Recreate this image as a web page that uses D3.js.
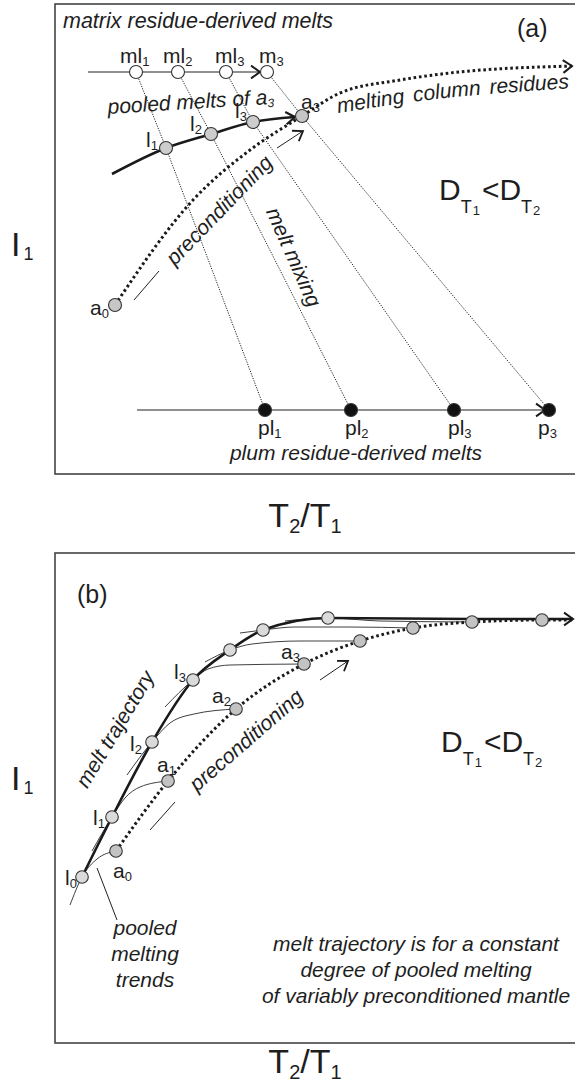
<!DOCTYPE html>
<html>
<head>
<meta charset="utf-8">
<title>Melt mixing and preconditioning</title>
<script src="https://cdn.jsdelivr.net/npm/d3@7/dist/d3.min.js"></script>
<style>
  html, body { margin: 0; padding: 0; background: #fff; }
  svg { display: block; }
  text { font-family: "Liberation Sans", Arial, Helvetica, sans-serif; fill: #1e1e1e; }
</style>
</head>
<body>
<svg id="figure" width="575" height="1086"></svg>
<script>
// ---------- values, in frame units: x from the left edge, y up from the bottom edge ----------

// Panel (a): mixing of matrix and plum residue-derived melts
const matrixMelts = [
  { id: "ml", sub: "1", x: 81,  y: 402 },
  { id: "ml", sub: "2", x: 123, y: 402 },
  { id: "ml", sub: "3", x: 171, y: 402 },
  { id: "m",  sub: "3", x: 212, y: 402 }
];
const pooledMeltsA = [
  { id: "l", sub: "1", x: 111, y: 326 },
  { id: "l", sub: "2", x: 156, y: 340 },
  { id: "l", sub: "3", x: 198, y: 352 }
];
const residuesA = [
  { id: "a", sub: "0", x: 60,  y: 169 },
  { id: "a", sub: "3", x: 247, y: 358 }
];
const plumMelts = [
  { id: "pl", sub: "1", x: 210, y: 64 },
  { id: "pl", sub: "2", x: 296, y: 64 },
  { id: "pl", sub: "3", x: 399, y: 64 },
  { id: "p",  sub: "3", x: 494, y: 64 }
];
const matrixAxisA = [[33, 402], [205, 402]];
const plumAxisA = [[82, 64], [490, 64]];
const pooledCurveA = [[57, 300], [111, 326], [156, 340], [198, 352], [240, 357]];
const residueCurveA = [[60, 169], [138, 274], [195, 324], [247, 358], [285, 381], [345, 394], [395, 401], [517, 408]];
const residueLabelPathA = [[283, 361], [365, 373], [520, 386]];
const preconArrowA = [[222, 326], [248, 343]];
const slashA = [[79, 174], [104, 203]];

// Panel (b): melt trajectory of variably preconditioned mantle
const trajectoryB = [
  { id: "l", sub: "0", x: 27,  y: 166 },
  { id: "l", sub: "1", x: 57,  y: 226 },
  { id: "l", sub: "2", x: 97,  y: 301 },
  { id: "l", sub: "3", x: 138, y: 363 },
  { id: "",  sub: "",  x: 175, y: 393 },
  { id: "",  sub: "",  x: 208, y: 413 },
  { id: "",  sub: "",  x: 273, y: 425 }
];
const residuesB = [
  { id: "a", sub: "0", x: 61,  y: 192 },
  { id: "a", sub: "1", x: 113, y: 262 },
  { id: "a", sub: "2", x: 181, y: 334 },
  { id: "a", sub: "3", x: 249, y: 379 },
  { id: "",  sub: "",  x: 305, y: 402 },
  { id: "",  sub: "",  x: 358, y: 415 },
  { id: "",  sub: "",  x: 417, y: 421 },
  { id: "",  sub: "",  x: 487, y: 423 }
];
const trajectoryEndB = [[417, 424], [487, 424], [518, 424]];
const residueEndB = [[518, 423]];
const pooledTrendsB = [
  [[15, 138], [27, 166], [42, 184], [61, 192]],
  [[37, 192], [57, 226], [70, 245], [85, 256], [113, 262]],
  [[72, 268], [97, 301], [115, 320], [139, 329], [181, 334]],
  [[110, 336], [138, 363], [153, 374], [175, 378], [249, 379]],
  [[150, 381], [175, 393], [197, 399], [245, 402], [305, 402]],
  [[185, 410], [208, 413], [240, 416], [295, 416], [358, 415]],
  [[230, 422], [273, 425], [325, 422], [417, 421]]
];
const preconArrowB = [[265, 363], [293, 382]];
const slashB = [[95, 213], [120, 241]];
const pointerB = [[42, 175], [62, 123]];

// ---------- scales ----------
const xA = d3.scaleLinear().domain([0, 525]).range([55, 580]);
const yA = d3.scaleLinear().domain([0, 470]).range([474, 4]);
const xB = d3.scaleLinear().domain([0, 525]).range([55, 580]);
const yB = d3.scaleLinear().domain([0, 490]).range([1043, 553]);

const svg = d3.select("#figure");
const defs = svg.append("defs");

const pathOf = (xs, ys, curve) =>
  d3.line().x(d => xs(d[0])).y(d => ys(d[1])).curve(curve || d3.curveLinear);

// open chevron arrow head at `tip`, pointing away from `from` (pixel space)
function chevron(g, tip, from, len, half, width) {
  const ang = Math.atan2(tip[1] - from[1], tip[0] - from[0]);
  const p1 = [tip[0] - len * Math.cos(ang - half), tip[1] - len * Math.sin(ang - half)];
  const p2 = [tip[0] - len * Math.cos(ang + half), tip[1] - len * Math.sin(ang + half)];
  g.append("path")
    .attr("d", `M${p1[0]},${p1[1]}L${tip[0]},${tip[1]}L${p2[0]},${p2[1]}`)
    .attr("fill", "none").attr("stroke", "#1a1a1a")
    .attr("stroke-width", width).attr("stroke-linejoin", "miter").attr("stroke-linecap", "butt");
}

// text made of runs; each run may be shifted down (subscripts)
function rich(g, x, y, runs, attrs) {
  const t = g.append("text").attr("x", x).attr("y", y);
  Object.entries(attrs || {}).forEach(([k, v]) => t.attr(k, v));
  let shift = 0;
  runs.forEach(r => {
    const s = t.append("tspan").text(r.t).attr("font-size", r.size);
    const target = r.dy || 0;
    if (target - shift !== 0) s.attr("dy", target - shift);
    if (r.dx) s.attr("dx", r.dx);
    shift = target;
  });
  return t;
}

function pointLabel(g, xs, ys, p, off) {
  if (!p.id) return;
  rich(g, xs(p.x) + off[0], ys(p.y) + off[1], [
    { t: p.id, size: 21 },
    { t: p.sub, size: 13, dy: 3 }
  ]);
}

function rotatedItalic(g, cx, cy, angle, str, size) {
  g.append("text")
    .attr("transform", `translate(${cx},${cy}) rotate(${angle})`)
    .attr("text-anchor", "middle").attr("dy", "0.35em")
    .attr("font-style", "italic").attr("font-size", size)
    .text(str);
}

function ratioLabel(g, x, y) {
  rich(g, x, y, [
    { t: "D", size: 30 },
    { t: "T", size: 18, dy: 13 },
    { t: "1", size: 13, dy: 15, dx: 1 },
    { t: "<", size: 30, dy: 0, dx: 2 },
    { t: "D", size: 30, dy: 0 },
    { t: "T", size: 18, dy: 13 },
    { t: "2", size: 13, dy: 15, dx: 1 }
  ]);
}

function circles(g, xs, ys, pts, fill, r) {
  g.selectAll(null).data(pts).enter().append("circle")
    .attr("cx", d => xs(d.x)).attr("cy", d => ys(d.y)).attr("r", r)
    .attr("fill", fill).attr("stroke", "#333").attr("stroke-width", 1.1);
}

const px = (xs, ys, p) => [xs(p[0]), ys(p[1])];

// ============================ panel (a) ============================
const gA = svg.append("g");
gA.append("rect")
  .attr("x", xA(0)).attr("y", yA(470))
  .attr("width", xA(525) - xA(0)).attr("height", yA(0) - yA(470))
  .attr("fill", "none").attr("stroke", "#444").attr("stroke-width", 1.6);

// melt mixing tie lines: matrix melt -> pooled melt -> plum melt
const mixingLines = matrixMelts.map((m, i) => [m, i < 3 ? pooledMeltsA[i] : residuesA[1], plumMelts[i]]);
mixingLines.forEach(pts => {
  gA.append("path").attr("d", pathOf(xA, yA)(pts.map(p => [p.x, p.y])))
    .attr("fill", "none").attr("stroke", "#222").attr("stroke-width", 1)
    .attr("stroke-dasharray", "1.2,1.3");
});

// matrix and plum melt axes
[matrixAxisA, plumAxisA].forEach(ax => {
  gA.append("path").attr("d", pathOf(xA, yA)(ax))
    .attr("fill", "none").attr("stroke", "#222").attr("stroke-width", 1.1);
  chevron(gA, px(xA, yA, ax[1]), px(xA, yA, ax[0]), 11, 0.62, 2);
});

// pooled melts of a3
gA.append("path").attr("d", pathOf(xA, yA, d3.curveMonotoneX)(pooledCurveA))
  .attr("fill", "none").attr("stroke", "#1a1a1a").attr("stroke-width", 2.6);
chevron(gA, px(xA, yA, pooledCurveA[pooledCurveA.length - 1]), px(xA, yA, pooledCurveA[pooledCurveA.length - 2]), 11, 0.6, 2.2);

// preconditioning / melting column residues
gA.append("path").attr("d", pathOf(xA, yA, d3.curveMonotoneX)(residueCurveA))
  .attr("fill", "none").attr("stroke", "#1a1a1a").attr("stroke-width", 3)
  .attr("stroke-dasharray", "2.6,2.8");
chevron(gA, px(xA, yA, residueCurveA[residueCurveA.length - 1]), px(xA, yA, residueCurveA[residueCurveA.length - 2]), 11, 0.62, 2);

// small direction arrow and tick
gA.append("path").attr("d", pathOf(xA, yA)(preconArrowA))
  .attr("stroke", "#222").attr("stroke-width", 1).attr("fill", "none");
chevron(gA, px(xA, yA, preconArrowA[1]), px(xA, yA, preconArrowA[0]), 11, 0.6, 1.8);
gA.append("path").attr("d", pathOf(xA, yA)(slashA))
  .attr("stroke", "#222").attr("stroke-width", 1).attr("fill", "none");

circles(gA, xA, yA, matrixMelts, "#ffffff", 6.5);
circles(gA, xA, yA, pooledMeltsA, "#cdcdcd", 6.5);
circles(gA, xA, yA, residuesA, "#c6c6c6", 6.5);
circles(gA, xA, yA, plumMelts, "#111111", 6.5);

const offsetsA = {
  ml1: [-16, -9], ml2: [-15, -9], ml3: [-11, -9], m3: [-8, -9],
  l1: [-20, -1], l2: [-21, -3], l3: [-18, -4],
  a0: [-25, 10], a3: [-1, -7],
  pl1: [-7, 25], pl2: [-6, 25], pl3: [-6, 25], p3: [-11, 25]
};
[...matrixMelts, ...pooledMeltsA, ...residuesA, ...plumMelts].forEach(p =>
  pointLabel(gA, xA, yA, p, offsetsA[p.id + p.sub]));

gA.append("text").attr("x", xA(8)).attr("y", yA(446))
  .attr("font-style", "italic").attr("font-size", 21.5).text("matrix residue-derived melts");
gA.append("text").attr("x", xA(462)).attr("y", yA(437))
  .attr("font-size", 25).text("(a)");
rich(gA, xA(53), yA(360), [
  { t: "pooled melts of a", size: 21 },
  { t: "3", size: 12, dy: 3 }
], { "font-style": "italic", transform: `rotate(-3.5 ${xA(53)} ${yA(360)})` });

// label riding just under the residue path
defs.append("path").attr("id", "residueLabelPath")
  .attr("d", pathOf(xA, yA, d3.curveMonotoneX)(residueLabelPathA));
gA.append("text")
  .attr("font-style", "italic").attr("font-size", 21).attr("word-spacing", 3)
  .append("textPath").attr("href", "#residueLabelPath")
  .text("melting column residues");

rotatedItalic(gA, xA(164), yA(264), -46, "preconditioning", 21);
rotatedItalic(gA, xA(239), yA(217), 66, "melt mixing", 21);
ratioLabel(gA, xA(384), yA(274));
gA.append("text").attr("x", xA(301)).attr("y", yA(14))
  .attr("text-anchor", "middle").attr("font-style", "italic").attr("font-size", 21)
  .text("plum residue-derived melts");

// ============================ panel (b) ============================
const gB = svg.append("g");
gB.append("rect")
  .attr("x", xB(0)).attr("y", yB(490))
  .attr("width", xB(525) - xB(0)).attr("height", yB(0) - yB(490))
  .attr("fill", "none").attr("stroke", "#444").attr("stroke-width", 1.6);

// pooled melting trends of each preconditioned source
pooledTrendsB.forEach(tr => {
  gB.append("path").attr("d", pathOf(xB, yB, d3.curveMonotoneX)(tr))
    .attr("fill", "none").attr("stroke", "#2a2a2a").attr("stroke-width", 0.9);
});

// melt trajectory
const trajPts = [...trajectoryB.map(p => [p.x, p.y]), ...trajectoryEndB];
gB.append("path").attr("d", pathOf(xB, yB, d3.curveMonotoneX)(trajPts))
  .attr("fill", "none").attr("stroke", "#1a1a1a").attr("stroke-width", 2.6);

// preconditioning path
const resPts = [...residuesB.map(p => [p.x, p.y]), ...residueEndB];
gB.append("path").attr("d", pathOf(xB, yB, d3.curveMonotoneX)(resPts))
  .attr("fill", "none").attr("stroke", "#1a1a1a").attr("stroke-width", 3)
  .attr("stroke-dasharray", "2.6,2.8");
chevron(gB, px(xB, yB, trajPts[trajPts.length - 1]), px(xB, yB, trajPts[trajPts.length - 2]), 11, 0.62, 2);

gB.append("path").attr("d", pathOf(xB, yB)(preconArrowB))
  .attr("stroke", "#222").attr("stroke-width", 1).attr("fill", "none");
chevron(gB, px(xB, yB, preconArrowB[1]), px(xB, yB, preconArrowB[0]), 11, 0.6, 1.8);
[slashB, pointerB].forEach(seg => {
  gB.append("path").attr("d", pathOf(xB, yB)(seg))
    .attr("stroke", "#222").attr("stroke-width", 1).attr("fill", "none");
});

circles(gB, xB, yB, trajectoryB, "#dadada", 6.3);
circles(gB, xB, yB, residuesB, "#c3c3c3", 6.3);

const offsetsB = {
  l0: [-17, 8], l1: [-19, 8], l2: [-22, 9], l3: [-19, -1],
  a0: [-3, 27], a1: [-11, -9], a2: [-24, -6], a3: [-23, -5]
};
[...trajectoryB, ...residuesB].forEach(p => {
  if (p.id) pointLabel(gB, xB, yB, p, offsetsB[p.id + p.sub]);
});

gB.append("text").attr("x", xB(22)).attr("y", yB(440)).attr("font-size", 25).text("(b)");
rotatedItalic(gB, xB(60), yB(314), -59, "melt trajectory", 21);
rotatedItalic(gB, xB(191), yB(303), -41, "preconditioning", 21);
ratioLabel(gB, xB(386), yB(291));

const trendNote = ["pooled", "melting", "trends"];
const trendNoteY = [108, 82, 56];
trendNote.forEach((s, i) => gB.append("text")
  .attr("x", xB(90)).attr("y", yB(trendNoteY[i]))
  .attr("text-anchor", "middle").attr("font-style", "italic").attr("font-size", 21).text(s));

const trajNote = ["melt trajectory is for a constant", "degree of pooled melting", "of variably preconditioned mantle"];
const trajNoteY = [92, 66, 40];
trajNote.forEach((s, i) => gB.append("text")
  .attr("x", xB(361)).attr("y", yB(trajNoteY[i]))
  .attr("text-anchor", "middle").attr("font-style", "italic").attr("font-size", 21).text(s));

// ============================ axis titles ============================
function axisY(y) {
  rich(svg, 11, y, [{ t: "I", size: 34 }, { t: "1", size: 18, dy: 4, dx: 3 }]);
}
function axisX(y) {
  rich(svg, 305, y, [
    { t: "T", size: 34 },
    { t: "2", size: 20, dy: 6 },
    { t: "/", size: 34, dy: 0 },
    { t: "T", size: 34, dy: 0 },
    { t: "1", size: 20, dy: 6 }
  ], { "text-anchor": "middle" });
}
axisY(256);
axisY(790);
axisX(527);
axisX(1073);
</script>
</body>
</html>
